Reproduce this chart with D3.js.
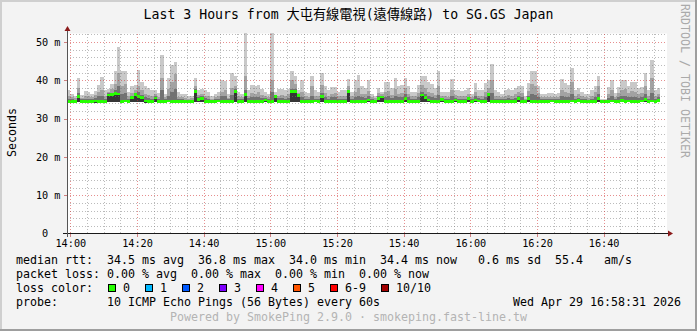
<!DOCTYPE html>
<html>
<head>
<meta charset="utf-8">
<script src="https://cdn.jsdelivr.net/npm/d3@7"></script>
<style>
body { margin: 0; background: #f3f3f3; }
svg { display: block; }
text { font-family: "DejaVu Sans Mono", "Noto Sans CJK TC", monospace; white-space: pre; }
</style>
</head>
<body>
<div id="viz"></div>
<script>
const width = 697,
    height = 331,
    plotLeft = 67,
    plotRight = 667,
    plotTop = 33.5,
    plotBottom = 233.5;

const startTime = new Date(2026, 3, 29, 13, 59),
    endTime = new Date(2026, 3, 29, 16, 59);

// one column per minute, values in ms
const rttMin = [
    34.1, 34.2, 34.1, 34.2, 34.2, 34.1, 34.0, 34.2, 34.1, 34.2,
    34.1, 34.1, 34.3, 34.2, 34.3, 34.2, 34.1, 34.2, 34.1, 34.2,
    34.3, 34.2, 34.2, 34.1, 34.2, 34.0, 34.2, 34.1, 34.1, 34.2,
    34.2, 34.1, 34.1, 34.2, 34.2, 34.1, 34.2, 34.1, 34.3, 34.2,
    34.2, 34.1, 34.1, 34.2, 34.1, 34.2, 34.2, 34.1, 34.2, 34.1,
    34.3, 34.2, 34.1, 34.2, 34.2, 34.1, 34.2, 34.2, 34.1, 34.2,
    34.2, 34.1, 34.2, 34.2, 34.1, 34.1, 34.2, 34.3, 34.3, 34.2,
    34.2, 34.1, 34.1, 34.2, 34.2, 34.1, 34.2, 34.2, 34.1, 34.2,
    34.2, 34.1, 34.1, 34.2, 34.3, 34.2, 34.2, 34.1, 34.2, 34.1,
    34.2, 34.2, 34.1, 34.2, 34.2, 34.1, 34.1, 34.2, 34.2, 34.1,
    34.1, 34.2, 34.2, 34.1, 34.1, 34.2, 34.3, 34.2, 34.2, 34.2,
    34.1, 34.2, 34.2, 34.1, 34.1, 34.2, 34.2, 34.2, 34.1, 34.2,
    34.2, 34.1, 34.2, 34.2, 34.1, 34.1, 34.2, 34.2, 34.2, 34.1,
    34.2, 34.1, 34.1, 34.2, 34.2, 34.2, 34.1, 34.1, 34.2, 34.2,
    34.2, 34.1, 34.2, 34.2, 34.1, 34.2, 34.2, 34.1, 34.2, 34.1,
    34.2, 34.2, 34.1, 34.2, 34.2, 34.1, 34.1, 34.2, 34.2, 34.2,
    34.1, 34.1, 34.2, 34.2, 34.1, 34.2, 34.2, 34.1, 34.2, 34.2,
    34.2, 34.1, 34.2, 34.2, 34.1, 34.2, 34.2, 34.2
];
const rttMid = [
    35.2, 35.0, 34.9, 36.8, 35.0, 35.2, 35.1, 35.0, 35.3, 35.8,
    36.0, 35.2, 36.6, 36.8, 37.5, 38.5, 36.5, 36.8, 35.1, 36.0,
    36.8, 37.0, 36.2, 35.5, 35.3, 35.2, 35.8, 35.0, 37.5, 35.0,
    36.0, 37.0, 37.8, 35.1, 35.0, 34.9, 34.9, 34.9, 37.6, 35.6,
    35.8, 35.3, 35.1, 34.9, 35.0, 35.2, 35.8, 36.0, 35.0, 36.2,
    37.6, 35.1, 35.0, 37.5, 35.3, 35.6, 35.5, 35.6, 35.3, 35.4,
    35.0, 37.0, 36.0, 35.3, 35.3, 35.2, 35.4, 37.8, 37.8, 36.3,
    35.6, 35.1, 35.0, 36.0, 35.2, 35.1, 36.6, 35.6, 35.2, 35.5,
    35.5, 35.1, 35.2, 35.2, 37.5, 35.1, 35.7, 36.0, 35.5, 35.4,
    35.8, 35.0, 34.9, 35.8, 35.9, 35.7, 35.8, 35.4, 36.0, 35.5,
    35.5, 36.3, 35.5, 35.1, 35.1, 35.6, 37.0, 36.3, 35.8, 35.6,
    35.3, 36.2, 35.3, 35.1, 35.0, 35.8, 35.4, 35.2, 35.1, 35.2,
    35.7, 35.0, 35.8, 35.3, 35.2, 35.7, 36.8, 36.8, 35.2, 35.0,
    35.0, 35.2, 35.3, 35.2, 35.4, 35.9, 35.6, 34.9, 36.0, 36.3,
    36.2, 35.5, 35.0, 35.0, 35.1, 35.2, 35.0, 35.1, 35.9, 35.7,
    35.5, 36.5, 35.2, 35.4, 35.1, 35.0, 34.9, 35.2, 35.6, 36.3,
    34.7, 34.8, 35.4, 35.8, 35.1, 35.5, 35.8, 35.9, 35.5, 35.7,
    35.7, 35.4, 35.5, 36.3, 35.2, 36.8, 35.2, 35.5
];
const rttHigh = [
    36.0, 35.6, 35.3, 38.0, 35.4, 36.0, 35.8, 35.6, 36.2, 37.0,
    37.5, 36.0, 37.0, 37.8, 39.0, 42.0, 38.5, 39.0, 35.8, 36.8,
    37.5, 38.5, 37.5, 36.5, 36.2, 36.0, 36.5, 35.6, 40.5, 35.5,
    37.8, 39.5, 41.5, 35.7, 35.5, 35.4, 35.2, 35.3, 38.5, 36.2,
    36.5, 36.0, 35.8, 35.2, 35.5, 35.8, 37.0, 37.5, 35.4, 38.0,
    38.5, 35.8, 35.5, 41.0, 36.0, 36.8, 36.5, 37.0, 36.2, 35.8,
    35.5, 40.0, 36.2, 36.0, 36.2, 36.0, 36.3, 40.0, 39.0, 36.8,
    37.0, 35.8, 35.6, 38.5, 36.0, 35.8, 38.8, 36.8, 36.0, 36.5,
    36.6, 35.8, 36.0, 36.0, 38.5, 35.8, 37.0, 38.0, 36.5, 36.3,
    37.2, 35.5, 35.3, 36.8, 36.3, 37.0, 37.2, 36.2, 37.8, 36.5,
    36.8, 38.0, 36.5, 35.8, 35.8, 36.8, 38.8, 38.0, 37.0, 36.8,
    36.2, 38.5, 35.9, 35.8, 35.7, 37.5, 36.2, 36.0, 35.8, 36.0,
    36.5, 35.5, 37.0, 36.0, 36.0, 37.0, 38.0, 40.0, 36.0, 35.8,
    35.5, 36.0, 36.2, 36.0, 36.3, 37.0, 36.8, 35.2, 37.2, 39.0,
    38.5, 36.6, 35.5, 35.5, 35.6, 35.7, 35.5, 35.6, 37.5, 37.0,
    36.8, 39.5, 36.0, 36.3, 35.8, 35.5, 35.3, 36.0, 37.0, 38.5,
    34.8, 34.9, 36.5, 37.5, 35.6, 36.6, 37.5, 37.8, 36.6, 37.2,
    37.0, 36.3, 36.6, 38.5, 36.0, 40.5, 36.0, 36.5
];
const rttMax = [
    37.5, 36.5, 36.0, 40.5, 36.2, 37.2, 37.0, 36.5, 37.2, 38.8,
    40.8, 37.5, 37.7, 39.0, 42.3, 48.6, 42.5, 42.5, 37.0, 38.5,
    38.8, 42.8, 39.5, 38.5, 38.0, 37.5, 37.5, 36.8, 46.5, 36.5,
    40.5, 44.0, 44.8, 37.0, 36.5, 36.5, 36.0, 36.0, 40.5, 37.5,
    37.8, 37.5, 37.0, 36.0, 36.5, 37.0, 40.0, 39.8, 36.5, 41.8,
    41.1, 37.0, 36.5, 52.3, 37.5, 38.8, 38.5, 38.8, 37.8, 37.0,
    36.5, 52.3, 37.0, 37.6, 37.6, 37.5, 37.6, 42.3, 41.0, 37.5,
    40.0, 37.0, 36.8, 41.0, 37.5, 37.0, 41.8, 38.5, 37.5, 38.3,
    38.3, 37.0, 37.5, 37.5, 40.3, 37.0, 40.0, 41.4, 38.5, 38.0,
    40.0, 36.5, 36.0, 38.0, 37.0, 39.6, 39.6, 38.0, 40.7, 38.5,
    38.8, 40.7, 38.5, 37.0, 37.0, 38.8, 41.0, 41.0, 39.6, 39.0,
    38.0, 42.3, 37.0, 37.0, 37.0, 40.3, 37.5, 37.5, 37.2, 37.5,
    38.0, 36.5, 39.2, 37.5, 37.5, 39.2, 40.0, 44.2, 37.5, 37.0,
    36.5, 37.5, 37.8, 37.5, 38.0, 38.6, 38.6, 36.0, 39.2, 42.4,
    42.4, 38.6, 36.5, 36.5, 36.8, 36.8, 36.5, 36.8, 40.3, 39.2,
    38.8, 43.3, 37.5, 38.0, 37.0, 36.5, 36.3, 37.5, 38.6, 41.0,
    35.0, 35.2, 38.3, 40.0, 36.8, 38.3, 40.0, 40.0, 38.5, 39.6,
    39.6, 38.0, 38.3, 41.8, 37.5, 45.3, 37.5, 38.0
];
const median = [
    34.4, 34.5, 34.4, 35.7, 34.5, 34.5, 34.4, 34.5, 34.6, 34.5,
    34.5, 34.4, 36.2, 36.3, 36.5, 36.4, 34.5, 34.6, 34.5, 35.5,
    36.3, 35.8, 35.5, 34.6, 34.5, 34.4, 35.4, 34.5, 34.4, 34.5,
    34.6, 34.5, 34.4, 34.5, 34.5, 34.4, 34.5, 34.5, 37.0, 35.0,
    35.3, 34.5, 34.4, 34.5, 34.5, 34.6, 34.5, 34.4, 34.5, 34.5,
    37.0, 34.5, 34.5, 36.3, 34.5, 34.4, 34.5, 34.5, 34.5, 34.8,
    34.5, 34.4, 35.7, 34.5, 34.5, 34.4, 34.5, 37.0, 37.0, 36.0,
    34.5, 34.5, 34.4, 34.5, 34.6, 34.5, 35.8, 34.5, 34.4, 34.5,
    34.5, 34.5, 34.4, 34.5, 37.0, 34.5, 34.5, 34.4, 34.5, 34.5,
    34.8, 34.5, 34.4, 35.3, 35.6, 34.5, 34.4, 34.5, 34.5, 34.5,
    34.4, 35.3, 34.5, 34.5, 34.4, 34.5, 36.2, 35.5, 34.8, 34.5,
    34.4, 34.5, 34.9, 34.5, 34.4, 34.5, 34.8, 34.5, 34.4, 34.5,
    35.2, 34.5, 34.8, 34.6, 34.5, 34.4, 36.3, 34.5, 34.5, 34.4,
    34.5, 34.5, 34.4, 34.5, 34.5, 35.2, 34.5, 34.4, 35.3, 34.5,
    34.5, 34.4, 34.5, 34.5, 34.5, 34.6, 34.5, 34.4, 34.5, 34.5,
    34.5, 34.6, 34.5, 34.7, 34.5, 34.4, 34.5, 34.5, 34.5, 35.3,
    34.4, 34.4, 34.5, 34.6, 34.5, 34.5, 34.7, 34.5, 34.6, 34.5,
    34.5, 34.5, 34.6, 35.0, 34.5, 34.6, 34.5, 34.7
];

const yMajorTicks = [0, 10, 20, 30, 40, 50];
const yTickLabels = ["0  ", "10 m", "20 m", "30 m", "40 m", "50 m"];
const xTickLabels = ["14:00", "14:20", "14:40", "15:00", "15:20", "15:40", "16:00", "16:20", "16:40"];

const lossLabels = ["0", "1", "2", "3", "4", "5", "6-9", "10/10"];
const lossColors = ["#26ff00", "#00b8ff", "#0059ff", "#7e00ff", "#ff00ff", "#ff5500", "#ff0000", "#a10000"];

const legendRows = [
    "median rtt:  34.5 ms avg  36.8 ms max  34.0 ms min  34.4 ms now   0.6 ms sd  55.4   am/s",
    "packet loss: 0.00 % avg  0.00 % max  0.00 % min  0.00 % now",
    "loss color:",
    "probe:       10 ICMP Echo Pings (56 Bytes) every 60s"
];

const svg = d3.select("#viz").append("svg")
    .attr("width", width)
    .attr("height", height);

// background and 3d frame
svg.append("rect").attr("width", width).attr("height", height).attr("fill", "#f3f3f3");
svg.append("rect").attr("x", 0).attr("y", 0).attr("width", width).attr("height", 2).attr("fill", "#cfcfcf");
svg.append("rect").attr("x", 0).attr("y", 0).attr("width", 2).attr("height", height).attr("fill", "#cfcfcf");
svg.append("rect").attr("x", 0).attr("y", height - 2).attr("width", width).attr("height", 2).attr("fill", "#9e9e9e");
svg.append("rect").attr("x", width - 2).attr("y", 0).attr("width", 2).attr("height", height).attr("fill", "#9e9e9e");

svg.append("rect")
    .attr("x", plotLeft).attr("y", plotTop)
    .attr("width", plotRight - plotLeft).attr("height", plotBottom - plotTop)
    .attr("fill", "#fff");

const x = d3.scaleTime()
    .domain([startTime, endTime])
    .range([plotLeft, plotRight]);

const y = d3.scaleLinear()
    .domain([0, 52.2])
    .range([plotBottom, plotTop]);

const colStart = (d, i) => x(d3.timeMinute.offset(startTime, i));
const colWidth = (d, i) => x(d3.timeMinute.offset(startTime, i + 1)) - x(d3.timeMinute.offset(startTime, i));

// smoke bands, light outer ones first
const bands = [
    {top: rttMax, color: "#c9c9c9"},
    {top: rttHigh, color: "#a2a2a2"},
    {top: rttMid, color: "#727272"},
    {top: median, color: "#363636"}
];

const smoke = svg.append("g").attr("shape-rendering", "crispEdges");
bands.forEach(function (band) {
    smoke.append("g")
        .selectAll("rect")
        .data(band.top)
        .enter().append("rect")
        .attr("x", colStart)
        .attr("width", colWidth)
        .attr("y", function (d) { return y(d); })
        .attr("height", function (d, i) { return y(rttMin[i]) - y(d); })
        .attr("fill", band.color);
});

// median, loss 0 colour
smoke.append("g")
    .selectAll("rect")
    .data(median)
    .enter().append("rect")
    .attr("x", colStart)
    .attr("width", colWidth)
    .attr("y", function (d) { return y(d) - 1.3; })
    .attr("height", 2.6)
    .attr("fill", lossColors[0]);

// grid over the data
const grid = svg.append("g").attr("shape-rendering", "crispEdges").attr("stroke-dasharray", "1,2");

const yMinor = d3.range(2, 53, 2).filter(d => d % 10 !== 0);
grid.selectAll(".hminor")
    .data(yMinor)
    .enter().append("line")
    .attr("x1", plotLeft).attr("x2", plotRight)
    .attr("y1", d => Math.round(y(d)) + 0.5).attr("y2", d => Math.round(y(d)) + 0.5)
    .attr("stroke", "rgba(120,120,120,0.5)");

const xMinor = d3.timeMinute.every(5).range(startTime, endTime).filter(d => d.getMinutes() % 20 !== 0);
grid.selectAll(".vminor")
    .data(xMinor)
    .enter().append("line")
    .attr("x1", d => Math.round(x(d)) + 0.5).attr("x2", d => Math.round(x(d)) + 0.5)
    .attr("y1", plotTop).attr("y2", plotBottom)
    .attr("stroke", "rgba(120,120,120,0.5)");

grid.selectAll(".hmajor")
    .data(yMajorTicks.slice(1))
    .enter().append("line")
    .attr("x1", plotLeft).attr("x2", plotRight)
    .attr("y1", d => Math.round(y(d)) + 0.5).attr("y2", d => Math.round(y(d)) + 0.5)
    .attr("stroke", "rgba(210,50,50,0.55)");

const xMajor = d3.timeMinute.every(20).range(startTime, endTime);
grid.selectAll(".vmajor")
    .data(xMajor)
    .enter().append("line")
    .attr("x1", d => Math.round(x(d)) + 0.5).attr("x2", d => Math.round(x(d)) + 0.5)
    .attr("y1", plotTop).attr("y2", plotBottom)
    .attr("stroke", "rgba(210,50,50,0.55)");

// axes
const axis = svg.append("g").attr("shape-rendering", "crispEdges");
axis.append("line")
    .attr("x1", plotLeft - 4).attr("x2", plotRight + 1)
    .attr("y1", plotBottom).attr("y2", plotBottom)
    .attr("stroke", "#1a1a1a");
axis.append("line")
    .attr("x1", plotLeft + 0.5).attr("x2", plotLeft + 0.5)
    .attr("y1", plotBottom + 3).attr("y2", plotTop - 3)
    .attr("stroke", "#555");

axis.selectAll(".xtick")
    .data(xMajor)
    .enter().append("line")
    .attr("x1", d => Math.round(x(d)) + 0.5).attr("x2", d => Math.round(x(d)) + 0.5)
    .attr("y1", plotBottom).attr("y2", plotBottom + 3)
    .attr("stroke", "#d08080");
axis.selectAll(".ytick")
    .data(yMajorTicks.slice(1))
    .enter().append("line")
    .attr("x1", plotLeft - 3).attr("x2", plotLeft)
    .attr("y1", d => Math.round(y(d)) + 0.5).attr("y2", d => Math.round(y(d)) + 0.5)
    .attr("stroke", "#d08080");

// arrows
svg.append("path")
    .attr("d", "M" + (plotLeft - 2.5) + "," + (plotTop - 2.5) + "L" + (plotLeft + 3.5) + "," + (plotTop - 2.5) + "L" + (plotLeft + 0.5) + "," + (plotTop - 7.5) + "Z")
    .attr("fill", "#8b1a1a");
svg.append("path")
    .attr("d", "M" + (plotRight + 1) + "," + (plotBottom - 3) + "L" + (plotRight + 1) + "," + (plotBottom + 3) + "L" + (plotRight + 6) + "," + plotBottom + "Z")
    .attr("fill", "#8b1a1a");

// tick labels
svg.append("g")
    .selectAll("text")
    .data(xMajor)
    .enter().append("text")
    .attr("x", d => x(d) + 0.5)
    .attr("y", 246.5)
    .attr("text-anchor", "middle")
    .attr("font-size", "10.2px")
    .attr("fill", "#000")
    .text((d, i) => xTickLabels[i]);

svg.append("g")
    .selectAll("text")
    .data(yMajorTicks)
    .enter().append("text")
    .attr("xml:space", "preserve")
    .attr("x", 60.5)
    .attr("y", d => y(d) + 3.7)
    .attr("text-anchor", "end")
    .attr("font-size", "10.2px")
    .attr("fill", "#000")
    .text((d, i) => yTickLabels[i]);

svg.append("text")
    .attr("transform", "translate(15.5,132.5) rotate(-90)")
    .attr("text-anchor", "middle")
    .attr("font-size", "11.63px")
    .text("Seconds");

svg.append("text")
    .attr("x", 348.5)
    .attr("y", 19)
    .attr("text-anchor", "middle")
    .attr("font-size", "13.2px")
    .text("Last 3 Hours from 大屯有線電視(遠傳線路) to SG.GS Japan");

svg.append("text")
    .attr("transform", "translate(681,4) rotate(90)")
    .attr("font-size", "11.63px")
    .attr("fill", "#aaaaaa")
    .text("RRDTOOL / TOBI OETIKER");

// legend
const charW = 7.0;
svg.append("g")
    .selectAll("text")
    .data(legendRows)
    .enter().append("text")
    .attr("xml:space", "preserve")
    .attr("x", 16)
    .attr("y", (d, i) => 263.5 + i * 14)
    .attr("font-size", "11.63px")
    .text(d => d);

let lx = 108;
const lossItems = lossLabels.map(function (label, i) {
    const item = {label: label, color: lossColors[i], x: lx};
    lx += 15 + label.length * charW + 15;
    return item;
});

const lossGroup = svg.append("g");
lossGroup.selectAll("rect")
    .data(lossItems)
    .enter().append("rect")
    .attr("x", d => d.x + 0.5)
    .attr("y", 284.5)
    .attr("width", 7)
    .attr("height", 7)
    .attr("fill", d => d.color)
    .attr("stroke", "#000")
    .attr("shape-rendering", "crispEdges");
lossGroup.selectAll("text")
    .data(lossItems)
    .enter().append("text")
    .attr("x", d => d.x + 15)
    .attr("y", 291.5)
    .attr("font-size", "11.63px")
    .text(d => d.label);

svg.append("text")
    .attr("x", 681)
    .attr("y", 305.5)
    .attr("text-anchor", "end")
    .attr("font-size", "11.63px")
    .text("Wed Apr 29 16:58:31 2026");

svg.append("text")
    .attr("x", 348.5)
    .attr("y", 321)
    .attr("text-anchor", "middle")
    .attr("font-size", "11.63px")
    .attr("fill", "#b4b4b4")
    .text("Powered by SmokePing 2.9.0 · smokeping.fast-line.tw");
</script>
</body>
</html>
